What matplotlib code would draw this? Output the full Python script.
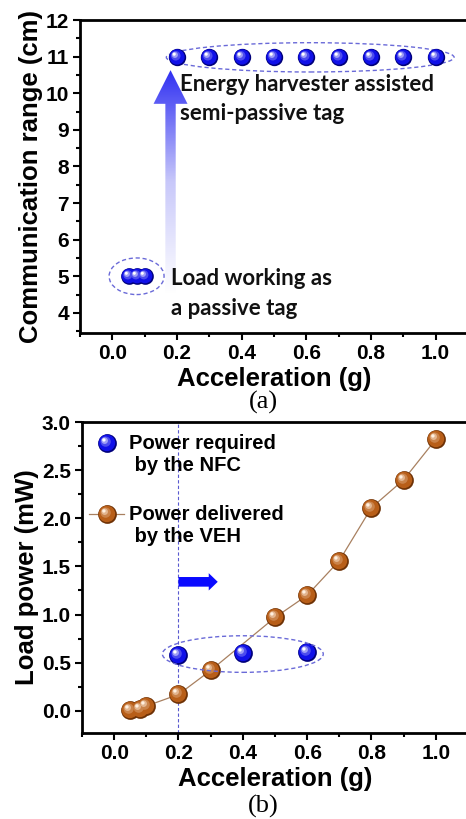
import numpy as np
import matplotlib
matplotlib.use("Agg")
import matplotlib.pyplot as plt
from matplotlib.path import Path
from matplotlib.patches import Ellipse, FancyArrow
from matplotlib.legend_handler import HandlerTuple
from matplotlib.colors import LinearSegmentedColormap, to_rgb
from matplotlib.ticker import MultipleLocator

# ---- data (a) ----
passive_x = [0.05, 0.075, 0.1]
passive_y = [5, 5, 5]
semi_x = [0.2, 0.3, 0.4, 0.5, 0.6, 0.7, 0.8, 0.9, 1.0]
semi_y = [11, 11, 11, 11, 11, 11, 11, 11, 11]

# ---- data (b) ----
nfc_x = [0.2, 0.4, 0.6]
nfc_y = [0.58, 0.60, 0.61]
veh_x = [0.05, 0.08, 0.1, 0.2, 0.3, 0.5, 0.6, 0.7, 0.8, 0.9, 1.0]
veh_y = [0.01, 0.02, 0.05, 0.17, 0.42, 0.97, 1.20, 1.56, 2.11, 2.40, 2.82]

ticks_x = ['0.0', '0.2', '0.4', '0.6', '0.8', '1.0']

plt.rcParams['font.family'] = ['Liberation Sans', 'DejaVu Sans']
plt.rcParams['font.weight'] = 'bold'

BLUE = ('#00007a', '#1010e8', '#ffffff')
BROWN = ('#6e3206', '#b85e18', '#fff0e0')


def blob(cx, cy, r):
    c = Path.circle((cx, cy), r)
    verts = np.vstack([[[-1, -1], [1, 1]], c.vertices])
    codes = [Path.MOVETO, Path.MOVETO] + list(c.codes)
    return Path(verts, codes)


def mix(a, b, f):
    a, b = np.array(to_rgb(a)), np.array(to_rgb(b))
    return tuple(a + (b - a) * f)


def sphere(ax, x, y, cols, ms, line=None):
    # fake shaded ball: stacked circles drifting to the upper left
    dark, mid, light = cols
    layers = [(0, 0, 1.0, dark), (-0.06, 0.06, 0.88, mid),
              (-0.2, 0.2, 0.55, mix(mid, light, 0.25)),
              (-0.3, 0.3, 0.35, mix(mid, light, 0.6)),
              (-0.38, 0.38, 0.18, light)]
    handles = []
    if line is not None:
        ln, = ax.plot(x, y, '-', color=line, lw=0.9, zorder=3)
        handles.append(ln)
    for cx, cy, r, c in layers:
        h, = ax.plot(x, y, ls='none', marker=blob(cx, cy, r), ms=ms,
                     mfc=c, mec='none', zorder=5)
        handles.append(h)
    return tuple(handles)


class TopLineTuple(HandlerTuple):
    # put the legend symbol next to the first line of a two-line label
    def create_artists(self, legend, orig_handle, xdescent, ydescent,
                       width, height, fontsize, trans):
        return super().create_artists(legend, orig_handle, xdescent,
                                      ydescent - 1.2 * fontsize, width, height,
                                      fontsize, trans)


def style(ax, xl, yl, ymaj, ymin):
    ax.set_xlim(-0.1, 1.1)
    ax.xaxis.set_major_locator(MultipleLocator(0.2))
    ax.xaxis.set_minor_locator(MultipleLocator(0.1))
    ax.yaxis.set_major_locator(MultipleLocator(ymaj))
    ax.yaxis.set_minor_locator(MultipleLocator(ymin))
    ax.tick_params(which='both', direction='out', width=1.5, top=False, right=False)
    ax.tick_params(which='major', length=5, labelsize=15, pad=3)
    ax.tick_params(which='minor', length=3)
    for s in ax.spines.values():
        s.set_linewidth(2)
    ax.set_xlabel(xl, fontsize=18.5, fontweight='bold', labelpad=3)
    ax.set_ylabel(yl, fontsize=18.5, fontweight='bold', labelpad=2)


fig = plt.figure(figsize=(4.66, 8.19), dpi=100)

# ---------------- (a) ----------------
ax1 = fig.add_axes([80 / 466, 1 - 333 / 819, 388 / 466, 313 / 819])
ax1.set_ylim(3.45, 12)
style(ax1, 'Acceleration (g)', 'Communication range (cm)', 1, 0.5)
ax1.set_xticks([0.0, 0.2, 0.4, 0.6, 0.8, 1.0])
ax1.set_xticklabels(ticks_x)

sphere(ax1, passive_x, passive_y, BLUE, 12)
sphere(ax1, semi_x, semi_y, BLUE, 12.5)

ax1.add_patch(Ellipse((0.612, 10.98), 0.89, 0.8, fill=False, ls=(0, (3, 2)),
                      ec='#6a6ad8', lw=1, zorder=4))
ax1.add_patch(Ellipse((0.075, 5.0), 0.17, 1.0, fill=False, ls=(0, (3, 2)),
                      ec='#6a6ad8', lw=1, zorder=4))

arr = FancyArrow(0.18, 4.55, 0, 6.08, width=0.032, head_width=0.105,
                 head_length=0.92, length_includes_head=True, fc='none', ec='none')
ax1.add_patch(arr)
cmap = LinearSegmentedColormap.from_list('g', ['#ffffff', '#c8c8fa', '#3030f2'])
grad = np.linspace(0, 1, 256).reshape(-1, 1)
im = ax1.imshow(grad, extent=(0.12, 0.24, 4.55, 10.63), origin='lower',
                cmap=cmap, aspect='auto', zorder=2)
im.set_clip_path(arr)

ax1.text(0.21, 10.53, 'Energy harvester assisted\nsemi-passive tag', fontsize=16,
         fontfamily=['Lato', 'DejaVu Sans'], fontweight='bold', va='top', ha='left',
         linespacing=1.5, color='#111111')
ax1.text(0.18, 5.22, 'Load working as\na passive tag', fontsize=16,
         fontfamily=['Lato', 'DejaVu Sans'], fontweight='bold', va='top', ha='left',
         linespacing=1.5, color='#111111')
fig.text(263 / 466, 1 - 402 / 819, '(a)', fontsize=19, ha='center', va='center',
         fontfamily='Liberation Serif', fontweight='normal')

# ---------------- (b) ----------------
ax2 = fig.add_axes([82 / 466, 1 - 733 / 819, 386 / 466, 311 / 819])
ax2.set_ylim(-0.23, 3.0)
style(ax2, 'Acceleration (g)', 'Load power (mW)', 0.5, 0.25)
ax2.set_xticks([0.0, 0.2, 0.4, 0.6, 0.8, 1.0])
ax2.set_xticklabels(ticks_x)

ax2.axvline(0.2, color='#5a5ad0', lw=0.8, ls=(0, (3, 2)), zorder=1)
h_veh = sphere(ax2, veh_x, veh_y, BROWN, 13.5, line='#a88060')
h_nfc = sphere(ax2, nfc_x, nfc_y, BLUE, 13.5)
ax2.add_patch(Ellipse((0.40, 0.59), 0.5, 0.38, fill=False, ls=(0, (3, 2)),
                      ec='#6a6ad8', lw=1, zorder=6))
ax2.add_patch(FancyArrow(0.2, 1.34, 0.122, 0, width=0.1, head_width=0.18,
                         head_length=0.028, length_includes_head=True,
                         fc='#0a0aff', ec='none', zorder=4))

ax2.legend([h_nfc, h_veh],
           ['Power required\n by the NFC', 'Power delivered\n by the VEH'],
           handler_map={tuple: TopLineTuple(ndivide=1, pad=0)},
           loc='upper left', bbox_to_anchor=(-0.012, 1.0), frameon=False,
           prop={'size': 14.5, 'weight': 'bold'}, handlelength=1.7,
           handletextpad=0.25, labelspacing=1.5, borderaxespad=0.2)
fig.text(263 / 466, 1 - 806 / 819, '(b)', fontsize=19, ha='center', va='center',
         fontfamily='Liberation Serif', fontweight='normal')

fig.savefig('out.png', dpi=100)
